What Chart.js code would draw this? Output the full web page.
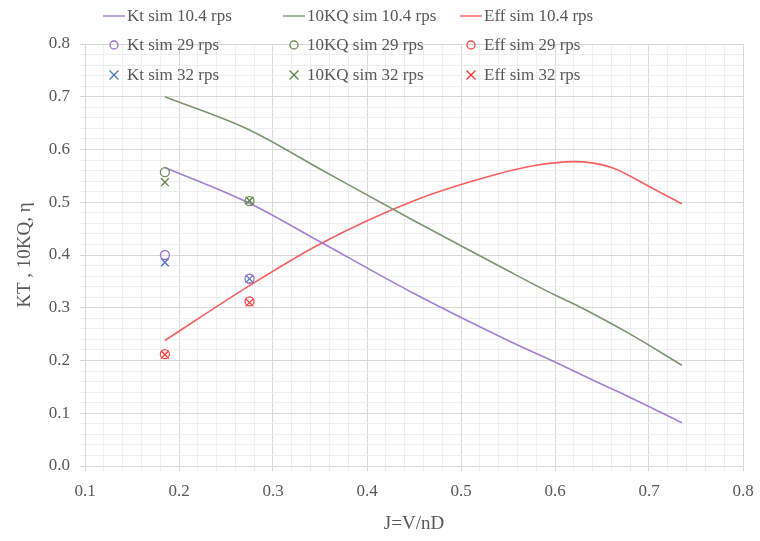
<!DOCTYPE html>
<html>
<head>
<meta charset="utf-8">
<script src="https://cdn.jsdelivr.net/npm/chart.js@4/dist/chart.umd.min.js"></script>
<style>
html, body { margin: 0; padding: 0; background: #fff; }
#wrap { width: 760px; height: 541px; }
</style>
</head>
<body>
<div id="wrap"><canvas id="chart"></canvas></div>
<script>
'use strict';

// Curves at 10.4 rps
const ktJ = [0.185, 0.275, 0.35, 0.45, 0.55, 0.6, 0.64, 0.68, 0.735];
const kt104 = [0.566, 0.498, 0.425, 0.327, 0.238, 0.197, 0.163, 0.130, 0.082];
const kqJ = [0.185, 0.275, 0.35, 0.45, 0.55, 0.6, 0.625, 0.68, 0.735];
const kq104 = [0.700, 0.637, 0.563, 0.465, 0.370, 0.324, 0.303, 0.250, 0.191];
const effJ = [0.185, 0.275, 0.35, 0.45, 0.54, 0.58, 0.62, 0.66, 0.70, 0.735];
const eff104 = [0.238, 0.342, 0.421, 0.503, 0.554, 0.570, 0.577, 0.566, 0.530, 0.497];

// Single simulation points at 29 / 32 rps
const simJ = [0.185, 0.275];
const kt29 = [0.400, 0.355];
const kq29 = [0.557, 0.502];
const eff29 = [0.212, 0.312];
const kt32 = [0.386, 0.355];
const kq32 = [0.538, 0.503];
const eff32 = [0.211, 0.310];

const xTicks = [0.1, 0.2, 0.3, 0.4, 0.5, 0.6, 0.7, 0.8];
const yTicks = [0.0, 0.1, 0.2, 0.3, 0.4, 0.5, 0.6, 0.7, 0.8];

const serif = '"Liberation Serif", "Times New Roman", serif';
const textClr = '#595959';
const pts = (xs, ys) => xs.map((x, i) => ({ x, y: ys[i] }));
const isMajor = (v, list) => list.some(t => Math.abs(t - v) < 1e-6);

const lineDs = (label, xs, ys, color) => ({
    label, data: pts(xs, ys), showLine: true, borderColor: color, borderWidth: 1.6,
    pointRadius: 0, cubicInterpolationMode: 'monotone', order: 2,
});
const markDs = (label, xs, ys, color, style) => ({
    label, data: pts(xs, ys), showLine: false, borderColor: color, backgroundColor: 'rgba(0,0,0,0)',
    pointStyle: style, pointRadius: style === 'circle' ? 4.5 : 5.5, pointBorderWidth: 1.3, order: 1,
});

// Legend laid out as a 3x3 grid like the original
const gridLegend = {
    id: 'gridLegend',
    afterDraw(chart) {
        const ctx = chart.ctx;
        const colX = [103, 283, 460];
        const rowY = [16, 45, 75];
        ctx.save();
        ctx.font = '17px ' + serif;
        ctx.textBaseline = 'middle';
        chart.data.datasets.forEach((ds, i) => {
            const x = colX[i % 3], y = rowY[Math.floor(i / 3)];
            ctx.strokeStyle = ds.borderColor;
            if (ds.showLine) {
                ctx.lineWidth = 1.4;
                ctx.beginPath(); ctx.moveTo(x, y); ctx.lineTo(x + 22, y); ctx.stroke();
            } else {
                ctx.lineWidth = 1.3;
                const cx = x + 11;
                ctx.beginPath();
                if (ds.pointStyle === 'circle') {
                    ctx.arc(cx, y, 4, 0, Math.PI * 2);
                } else {
                    ctx.moveTo(cx - 4.5, y - 4.5); ctx.lineTo(cx + 4.5, y + 4.5);
                    ctx.moveTo(cx + 4.5, y - 4.5); ctx.lineTo(cx - 4.5, y + 4.5);
                }
                ctx.stroke();
            }
            ctx.fillStyle = textClr;
            ctx.fillText(ds.label, x + 24, y + 1);
        });
        ctx.restore();
    },
};

const gridColor = list => ctx => isMajor(ctx.tick.value, list) ? '#d9d9d9' : '#efefef';

new Chart(document.getElementById('chart'), {
    type: 'scatter',
    data: {
        datasets: [
            lineDs('Kt sim 10.4 rps', ktJ, kt104, '#a57fd4'),
            lineDs('10KQ sim 10.4 rps', kqJ, kq104, '#7b9670'),
            lineDs('Eff sim 10.4 rps', effJ, eff104, '#ff5f5f'),
            markDs('Kt sim 29 rps', simJ, kt29, '#9a6fce', 'circle'),
            markDs('10KQ sim 29 rps', simJ, kq29, '#6f8f55', 'circle'),
            markDs('Eff sim 29 rps', simJ, eff29, '#ff4a4a', 'circle'),
            markDs('Kt sim 32 rps', simJ, kt32, '#4a78b8', 'crossRot'),
            markDs('10KQ sim 32 rps', simJ, kq32, '#5c8045', 'crossRot'),
            markDs('Eff sim 32 rps', simJ, eff32, '#ff3535', 'crossRot'),
        ],
    },
    options: {
        responsive: true, maintainAspectRatio: false, animation: false,
        layout: { padding: { top: 44, right: 17, left: 0, bottom: 0 } },
        plugins: { legend: { display: false }, tooltip: { enabled: false } },
        scales: {
            x: {
                type: 'linear', min: 0.1, max: 0.8,
                afterFit: s => { s.height = 75; s.paddingRight = 0; s.paddingLeft = 0; },
                afterBuildTicks: s => { s.ticks = Array.from({ length: 36 }, (_, i) => ({ value: +(0.1 + i * 0.02).toFixed(2) })); },
                grid: { color: gridColor(xTicks), tickLength: 5, drawTicks: true },
                border: { color: '#d9d9d9' },
                ticks: {
                    autoSkip: false, maxRotation: 0, padding: 10, color: textClr,
                    font: { family: serif, size: 17 },
                    callback: v => isMajor(v, xTicks) ? v.toFixed(1) : '',
                },
                title: { display: true, text: 'J=V/nD', color: textClr, font: { family: serif, size: 19 }, padding: { top: 0, bottom: 6 } },
            },
            y: {
                type: 'linear', min: 0, max: 0.8,
                afterFit: s => { s.width = 85; s.paddingTop = 0; s.paddingBottom = 0; },
                afterBuildTicks: s => { s.ticks = Array.from({ length: 41 }, (_, i) => ({ value: +(i * 0.02).toFixed(2) })); },
                grid: { color: gridColor(yTicks), tickLength: 5 },
                border: { color: '#d9d9d9' },
                ticks: {
                    autoSkip: false, padding: 10, color: textClr,
                    font: { family: serif, size: 17 },
                    callback: v => isMajor(v, yTicks) ? v.toFixed(1) : '',
                },
                title: { display: true, text: 'KT , 10KQ, η', color: textClr, font: { family: serif, size: 19 }, padding: { top: 14, bottom: 0 } },
            },
        },
    },
    plugins: [gridLegend],
});
</script>
</body>
</html>
